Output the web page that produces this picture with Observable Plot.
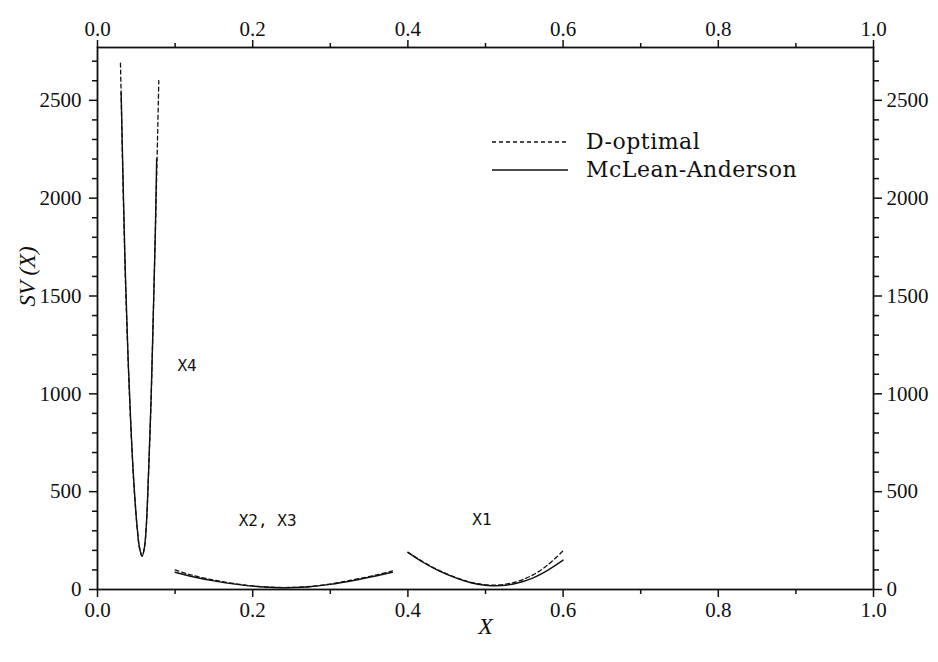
<!DOCTYPE html>
<html><head><meta charset="utf-8">
<script src="https://cdn.jsdelivr.net/npm/d3@7"></script>
<script src="https://cdn.jsdelivr.net/npm/@observablehq/plot@0.6"></script>
<style>
body{margin:0;background:#fff;}
#wrap{position:relative;width:938px;height:662px;overflow:hidden;}
.leg{position:absolute;left:490px;top:128px;font-family:"DejaVu Serif",serif;font-size:22px;letter-spacing:0.5px;color:#111;line-height:28px;}
.leg div{display:flex;align-items:center;}
.leg svg{margin-right:16px;}
</style></head><body><div id="wrap"></div>
<script>
// Series names
const seriesNames = ["D-optimal", "McLean-Anderson"];

// X4 curve
const x4DoptX  = [0.0296, 0.0325, 0.0355, 0.0390, 0.0430, 0.0470, 0.0510, 0.0540, 0.0575, 0.0605, 0.0630, 0.0660, 0.0690, 0.0720, 0.0750, 0.0775, 0.0790];
const x4DoptSV = [2690, 2150, 1650, 1220, 830, 530, 320, 215, 172, 215, 330, 620, 960, 1420, 1900, 2330, 2600];
const x4MaX    = [0.0305, 0.0330, 0.0358, 0.0392, 0.0432, 0.0472, 0.0512, 0.0542, 0.0575, 0.0603, 0.0628, 0.0658, 0.0688, 0.0718, 0.0745, 0.0762];
const x4MaSV   = [2540, 2080, 1630, 1210, 820, 525, 315, 212, 170, 210, 320, 600, 940, 1390, 1820, 2200];

// X2, X3 curve
const x23X      = [0.10, 0.12, 0.15, 0.18, 0.21, 0.24, 0.27, 0.30, 0.33, 0.36, 0.38];
const x23DoptSV = [100, 75, 48, 28, 15, 10, 14, 28, 50, 75, 95];
const x23MaSV   = [88, 68, 44, 26, 14, 9, 13, 26, 46, 70, 88];

// X1 curve
const x1X      = [0.40, 0.42, 0.44, 0.46, 0.48, 0.50, 0.52, 0.54, 0.56, 0.58, 0.60];
const x1DoptSV = [190, 140, 98, 64, 38, 24, 24, 40, 72, 125, 198];
const x1MaSV   = [190, 138, 95, 62, 36, 22, 20, 32, 57, 98, 150];

// Curve labels
const curveLabels = ["X4", "X2, X3", "X1"];
const curveLabelX = [0.103, 0.182, 0.483];
const curveLabelSV = [1145, 353, 358];

// Ticks
const xMajorTicks = [0, 0.2, 0.4, 0.6, 0.8, 1.0];
const xMinorTicks = [0.1, 0.3, 0.5, 0.7, 0.9];
const yMajorTicks = [0, 500, 1000, 1500, 2000, 2500];
const yMinorTicks = [100,200,300,400,600,700,800,900,1100,1200,1300,1400,1600,1700,1800,1900,2100,2200,2300,2400,2600,2700];

function rows(xs, ys, series, group) {
  return xs.map((x, i) => ({x, sv: ys[i], series, group}));
}
const dopt = [
  ...rows(x4DoptX, x4DoptSV, seriesNames[0], "x4"),
  ...rows(x23X, x23DoptSV, seriesNames[0], "x23"),
  ...rows(x1X, x1DoptSV, seriesNames[0], "x1")
];
const ma = [
  ...rows(x4MaX, x4MaSV, seriesNames[1], "x4"),
  ...rows(x23X, x23MaSV, seriesNames[1], "x23"),
  ...rows(x1X, x1MaSV, seriesNames[1], "x1")
];
const labels = curveLabels.map((t, i) => ({t, x: curveLabelX[i], sv: curveLabelSV[i]}));

const ink = "#111";
const fmtX = d3.format(".1f");
const blank = () => "";

const chart = Plot.plot({
  width: 938, height: 662,
  marginLeft: 97, marginRight: 65, marginTop: 47, marginBottom: 73,
  x: {domain: [0, 1]},
  y: {domain: [0, 2770]},
  style: {fontFamily: "'Liberation Serif', serif", fontSize: "21px", color: ink, background: "white"},
  marks: [
    Plot.axisX({anchor: "bottom", ticks: xMajorTicks, tickFormat: fmtX, tickSize: 8, tickPadding: 5, strokeWidth: 1.5, label: null}),
    Plot.axisX({anchor: "bottom", ticks: xMinorTicks, tickFormat: blank, tickSize: 5, strokeWidth: 1.5, label: null}),
    Plot.axisX({anchor: "top", ticks: xMajorTicks, tickFormat: fmtX, tickSize: 8, tickPadding: 4, strokeWidth: 1.5, label: null}),
    Plot.axisX({anchor: "top", ticks: xMinorTicks, tickFormat: blank, tickSize: 5, strokeWidth: 1.5, label: null}),
    Plot.axisY({anchor: "left", ticks: yMajorTicks, tickFormat: d => String(d), tickSize: 8, tickPadding: 8, strokeWidth: 1.5, label: null}),
    Plot.axisY({anchor: "left", ticks: yMinorTicks, tickFormat: blank, tickSize: 5, strokeWidth: 1.5, label: null}),
    Plot.axisY({anchor: "right", ticks: yMajorTicks, tickFormat: d => String(d), tickSize: 8, tickPadding: 5, strokeWidth: 1.5, label: null}),
    Plot.axisY({anchor: "right", ticks: yMinorTicks, tickFormat: blank, tickSize: 5, strokeWidth: 1.5, label: null}),
    Plot.frame({stroke: ink, strokeWidth: 1.8}),
    Plot.line(ma, {x: "x", y: "sv", z: "group", stroke: ink, strokeWidth: 1.4, curve: "catmull-rom"}),
    Plot.line(dopt, {x: "x", y: "sv", z: "group", stroke: ink, strokeWidth: 1.3, strokeDasharray: "4,3", curve: "catmull-rom"}),
    Plot.text(labels, {x: "x", y: "sv", text: "t", textAnchor: "start", fontFamily: "'DejaVu Sans Mono', monospace", fontSize: 16, fill: ink}),
    Plot.text(["X"], {frameAnchor: "bottom", dy: 44, text: d => d, fontStyle: "italic", fontSize: 24, fill: ink}),
    Plot.text(["SV (X)"], {frameAnchor: "left", dx: -70, dy: -12, rotate: -90, text: d => d, fontStyle: "italic", fontSize: 23, fill: ink})
  ]
});
const wrap = document.getElementById("wrap");
wrap.appendChild(chart);

// Legend
const leg = document.createElement("div");
leg.className = "leg";
const dashes = ["4,3", null];
leg.innerHTML = seriesNames.map((n, i) =>
  `<div><svg width="80" height="10"><line x1="2" x2="78" y1="5" y2="5" stroke="${ink}" stroke-width="1.3" ${dashes[i] ? `stroke-dasharray="${dashes[i]}"` : ""}/></svg><span>${n}</span></div>`
).join("");
wrap.appendChild(leg);
</script>
</body></html>
